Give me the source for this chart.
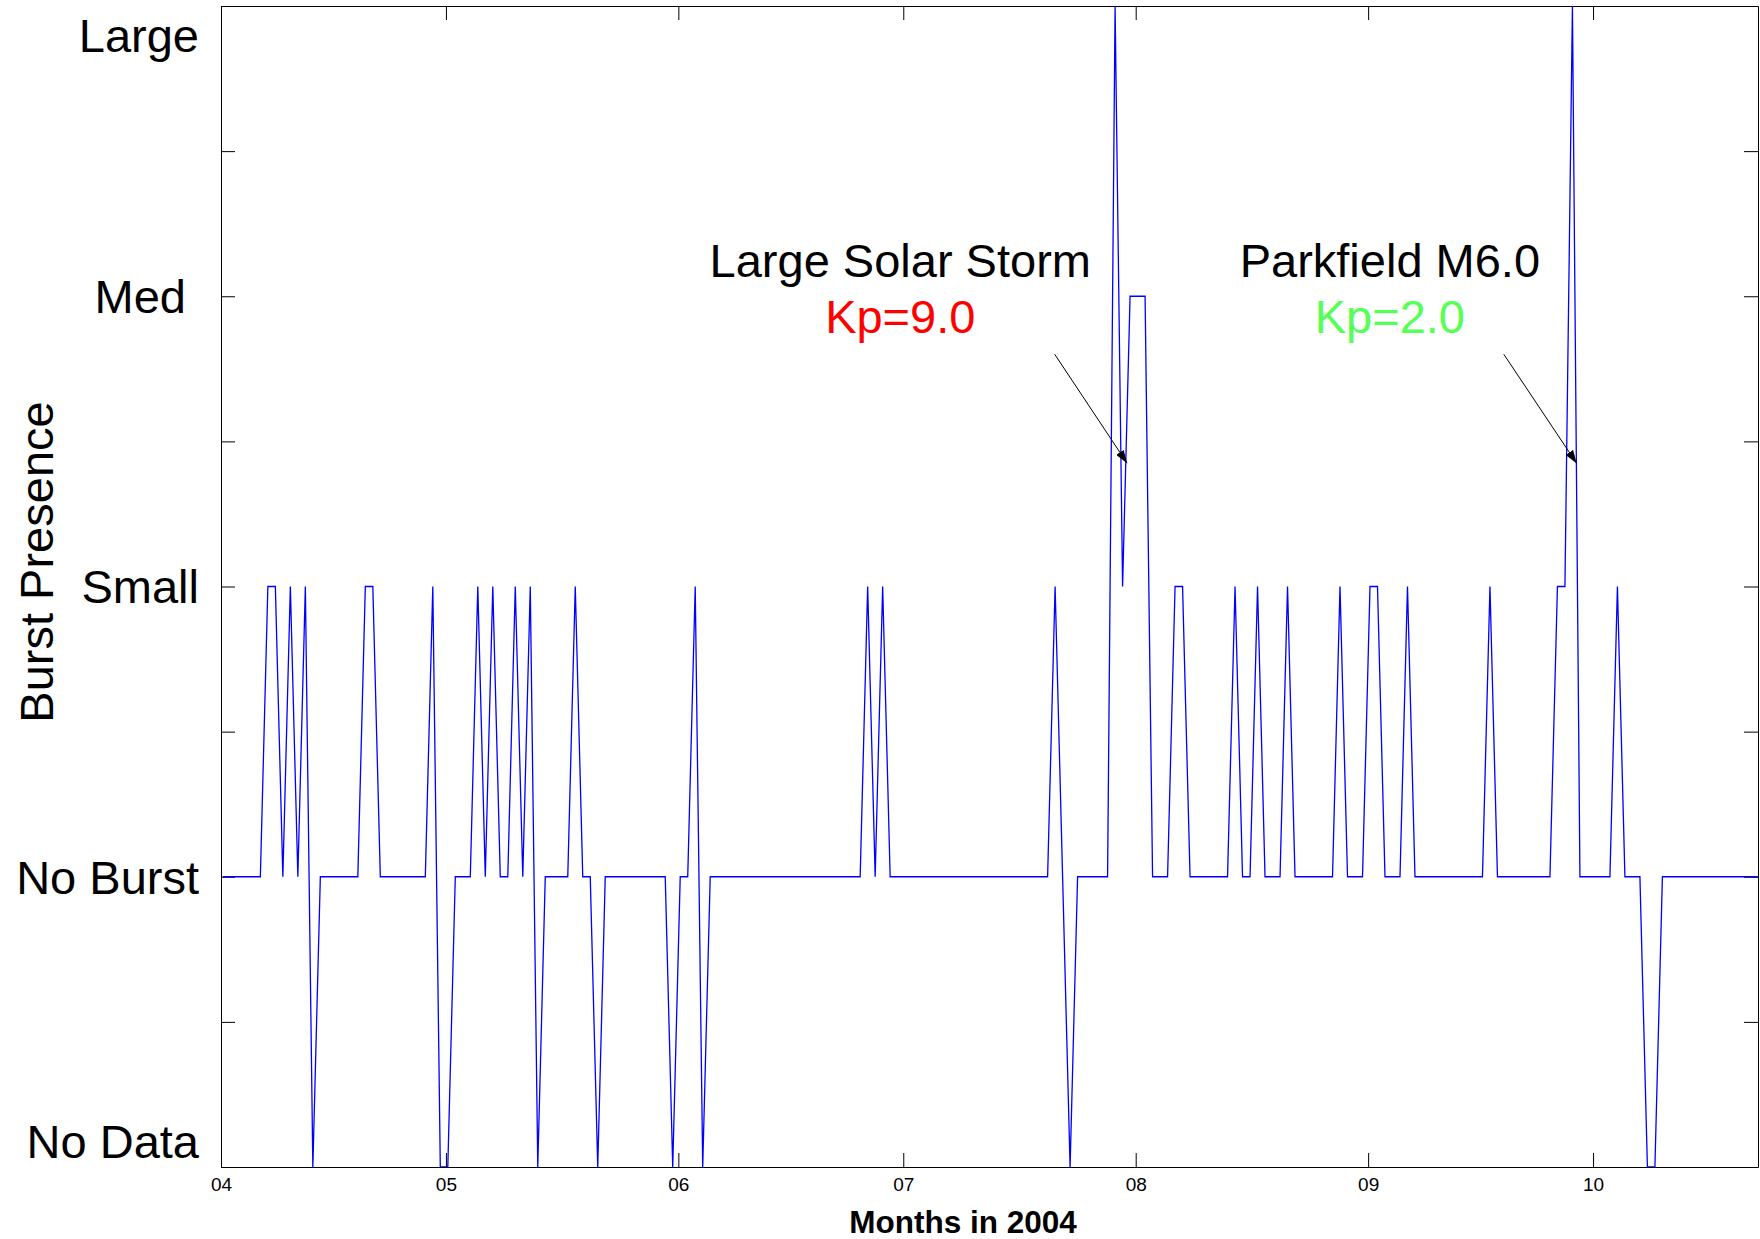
<!DOCTYPE html>
<html>
<head>
<meta charset="utf-8">
<script src="https://cdn.jsdelivr.net/npm/d3@7"></script>
<style>
	body { margin: 0; background: #fff; }
	text { font-family: 'Liberation Sans', Arial, sans-serif; }
	.axis path, .axis line { stroke: #000; }
	.axis text { font-size: 19px; fill: #000; }
</style>
</head>
<body>
<script>
const DAY = 86400000;

// one reading per day, 0 = No Data ... 4 = Large
const firstReading = Date.UTC(2004, 3, 1, 6);
const burstLevels = [
	1, 1, 1, 1, 1, 1, 2, 2, 1, 2, 1, 2, 0, 1, 1, 1, 1, 1, 1, 2,
	2, 1, 1, 1, 1, 1, 1, 1, 2, 0, 0, 1, 1, 1, 2, 1, 2, 1, 1, 2,
	1, 2, 0, 1, 1, 1, 1, 2, 1, 1, 0, 1, 1, 1, 1, 1, 1, 1, 1, 1,
	0, 1, 1, 2, 0, 1, 1, 1, 1, 1, 1, 1, 1, 1, 1, 1, 1, 1, 1, 1,
	1, 1, 1, 1, 1, 1, 2, 1, 2, 1, 1, 1, 1, 1, 1, 1, 1, 1, 1, 1,
	1, 1, 1, 1, 1, 1, 1, 1, 1, 1, 1, 2, 1, 0, 1, 1, 1, 1, 1, 4,
	2, 3, 3, 3, 1, 1, 1, 2, 2, 1, 1, 1, 1, 1, 1, 2, 1, 1, 2, 1,
	1, 1, 2, 1, 1, 1, 1, 1, 1, 2, 1, 1, 1, 2, 2, 1, 1, 1, 2, 1,
	1, 1, 1, 1, 1, 1, 1, 1, 1, 2, 1, 1, 1, 1, 1, 1, 1, 1, 2, 2,
	4, 1, 1, 1, 1, 1, 2, 1, 1, 1, 0, 0, 1, 1, 1, 1, 1, 1, 1, 1,
	1, 1, 1, 1, 1, 1,
];

const levelNames = ['No Data', 'No Burst', 'Small', 'Med ', 'Large'];
const levelTicks = [0, 0.5, 1, 1.5, 2, 2.5, 3, 3.5, 4];

// annotations: day offsets from Apr 1 and burst levels
const noteTitles = ['Large Solar Storm', 'Parkfield M6.0'];
const noteKp = ['Kp=9.0', 'Kp=2.0'];
const noteKpColors = ['#ff0000', '#55ff55'];
const noteTextDay = [90.6, 155.9];
const noteTailDay = [111.2, 171.1];
const noteTipDay = [120.85, 180.8];
const noteTextLevel = 3.066;
const noteKpLevel = 2.873;
const noteTailLevel = 2.8;
const noteTipLevel = 2.425;

const margin = {
	top: 6,
	right: 2,
	bottom: 72,
	left: 221,
};
const width = 1760 - margin.left - margin.right;
const height = 1239 - margin.top - margin.bottom;

const data = burstLevels.map((level, i) => ({
	date: new Date(firstReading + i * DAY),
	level: level,
}));

const dayToDate = d => new Date(Date.UTC(2004, 3, 1) + d * DAY);

const root = d3
	.select('body')
	.append('svg')
	.attr('width', width + margin.left + margin.right)
	.attr('height', height + margin.top + margin.bottom);

const svg = root
	.append('g')
	.attr('transform', `translate(${margin.left},${margin.top})`);

const xscale = d3
	.scaleUtc()
	.domain([Date.UTC(2004, 3, 1), Date.UTC(2004, 9, 23)])
	.range([0, width]);

const yscale = d3
	.scaleLinear()
	.domain([0, 4])
	.range([height, 0]);

const defs = root.append('defs');

defs
	.append('clipPath')
	.attr('id', 'plot-clip')
	.append('rect')
	.attr('width', width)
	.attr('height', height);

defs
	.append('marker')
	.attr('id', 'arrowhead')
	.attr('viewBox', '0 0 10 10')
	.attr('refX', 10)
	.attr('refY', 5)
	.attr('markerWidth', 13)
	.attr('markerHeight', 9)
	.attr('markerUnits', 'userSpaceOnUse')
	.attr('preserveAspectRatio', 'none')
	.attr('orient', 'auto')
	.append('path')
	.attr('d', 'M0,0L10,5L0,10z')
	.style('fill', '#000');

const months = d3.utcMonth.every(1);

// axes box, ticks pointing inwards
svg
	.append('g')
	.attr('class', 'x axis')
	.attr('transform', `translate(0,${height})`)
	.call(
		d3
			.axisBottom(xscale)
			.ticks(months)
			.tickFormat(d3.utcFormat('%m'))
			.tickSize(-14)
			.tickSizeOuter(0)
			.tickPadding(11)
	);

svg
	.append('g')
	.attr('class', 'x axis')
	.call(
		d3
			.axisTop(xscale)
			.ticks(months)
			.tickFormat('')
			.tickSize(-14)
			.tickSizeOuter(0)
	);

svg
	.append('g')
	.attr('class', 'y axis')
	.call(
		d3
			.axisLeft(yscale)
			.tickValues(levelTicks)
			.tickFormat('')
			.tickSize(-14)
			.tickSizeOuter(0)
	);

svg
	.append('g')
	.attr('class', 'y axis')
	.attr('transform', `translate(${width},0)`)
	.call(
		d3
			.axisRight(yscale)
			.tickValues(levelTicks)
			.tickFormat('')
			.tickSize(-14)
			.tickSizeOuter(0)
	);

svg.selectAll('.axis text').attr('fill', '#000');

// level names, kept inside the figure at both ends
svg
	.selectAll('text.level')
	.data(levelNames)
	.enter()
	.append('text')
	.attr('class', 'level')
	.attr('x', -22)
	.attr('y', (d, i) => Math.min(Math.max(yscale(i), 29), height - 26))
	.attr('dy', '0.36em')
	.attr('text-anchor', 'end')
	.style('font-size', '47px')
	.style('white-space', 'pre')
	.text(d => d);

const line = d3
	.line()
	.x(d => xscale(d.date))
	.y(d => yscale(d.level));

svg
	.append('path')
	.datum(data)
	.attr('clip-path', 'url(#plot-clip)')
	.attr('d', line)
	.style('fill', 'none')
	.style('stroke', '#0000ff')
	.style('stroke-width', 1.3);

const notes = svg
	.selectAll('g.note')
	.data(noteTitles)
	.enter()
	.append('g')
	.attr('class', 'note');

notes
	.append('text')
	.attr('x', (d, i) => xscale(dayToDate(noteTextDay[i])))
	.attr('y', yscale(noteTextLevel))
	.attr('text-anchor', 'middle')
	.style('font-size', '47px')
	.text(d => d);

notes
	.append('text')
	.attr('x', (d, i) => xscale(dayToDate(noteTextDay[i])))
	.attr('y', yscale(noteKpLevel))
	.attr('text-anchor', 'middle')
	.style('font-size', '47px')
	.style('fill', (d, i) => noteKpColors[i])
	.text((d, i) => noteKp[i]);

notes
	.append('line')
	.attr('x1', (d, i) => xscale(dayToDate(noteTailDay[i])))
	.attr('y1', yscale(noteTailLevel))
	.attr('x2', (d, i) => xscale(dayToDate(noteTipDay[i])))
	.attr('y2', yscale(noteTipLevel))
	.attr('marker-end', 'url(#arrowhead)')
	.style('stroke', '#000')
	.style('stroke-width', 1);

svg
	.append('text')
	.attr('transform', `translate(${53 - margin.left},${562 - margin.top}) rotate(-90)`)
	.attr('text-anchor', 'middle')
	.style('font-size', '47px')
	.text('Burst Presence');

svg
	.append('text')
	.attr('x', 963 - margin.left)
	.attr('y', 1233 - margin.top)
	.attr('text-anchor', 'middle')
	.style('font-size', '31.5px')
	.style('font-weight', 'bold')
	.text('Months in 2004');
</script>
</body>
</html>
